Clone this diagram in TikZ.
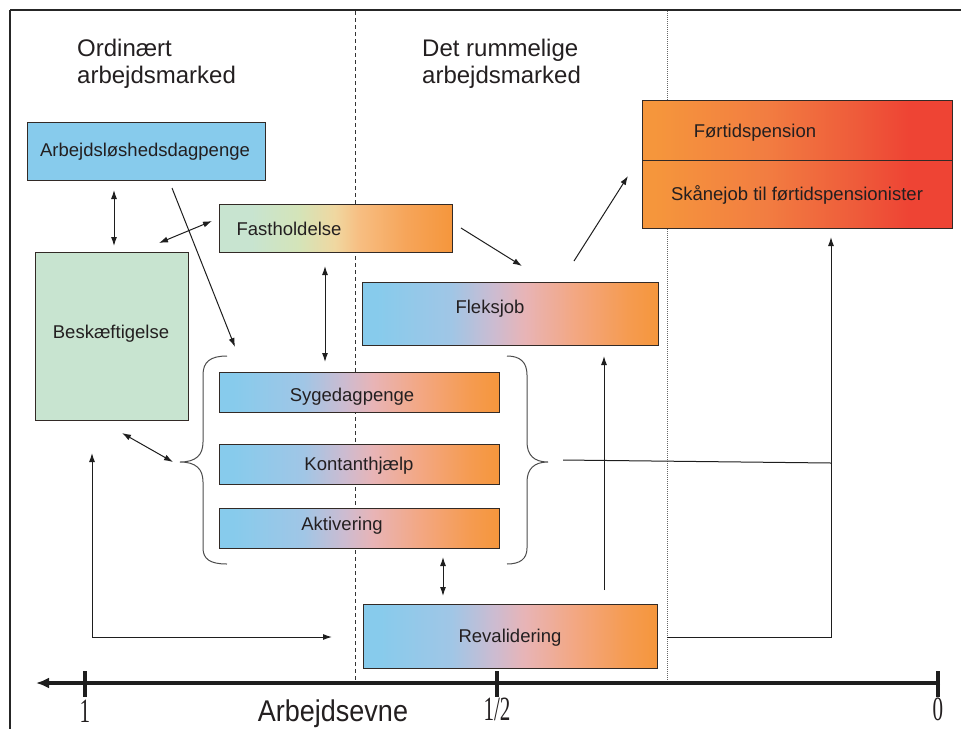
\documentclass[tikz,border=0pt]{standalone}
\usepackage{fontspec}
\setmainfont{Liberation Sans}
\newfontfamily\talfont{Liberation Serif}
\usetikzlibrary{arrows.meta}

\definecolor{lyseblaa}{RGB}{135,203,236}
\definecolor{blaa2}{RGB}{160,198,230}
\definecolor{lilla}{RGB}{205,187,208}
\definecolor{rosa}{RGB}{232,180,182}
\definecolor{laks}{RGB}{243,167,130}
\definecolor{orange2}{RGB}{245,155,80}
\definecolor{orange1}{RGB}{245,150,60}
\definecolor{lysegroen}{RGB}{200,228,208}
\definecolor{gulgroen}{RGB}{212,228,185}
\definecolor{beige}{RGB}{240,215,160}
\definecolor{lyseorange}{RGB}{247,190,130}
\definecolor{orange3}{RGB}{246,165,90}
\definecolor{rodorange}{RGB}{242,125,65}
\definecolor{rod2}{RGB}{238,90,58}
\definecolor{rod1}{RGB}{238,68,52}
\definecolor{kant}{RGB}{50,42,38}
\definecolor{tekstfarve}{RGB}{35,31,32}
\definecolor{linje}{RGB}{30,30,30}

\pgfdeclarehorizontalshading{blaaorange}{100bp}{color(0bp)=(lyseblaa); color(27.5bp)=(lyseblaa); color(40bp)=(blaa2); color(47.5bp)=(lilla); color(52.5bp)=(rosa); color(61bp)=(laks); color(70bp)=(orange2); color(75bp)=(orange1); color(100bp)=(orange1)}
\pgfdeclarehorizontalshading{groenorange}{100bp}{color(0bp)=(lysegroen); color(32bp)=(lysegroen); color(42bp)=(gulgroen); color(50bp)=(beige); color(55bp)=(lyseorange); color(65bp)=(orange3); color(75bp)=(orange1); color(100bp)=(orange1)}
\pgfdeclarehorizontalshading{orangerod}{100bp}{color(0bp)=(orange1); color(27bp)=(orange1); color(45bp)=(rodorange); color(60bp)=(rod2); color(68bp)=(rod1); color(100bp)=(rod1)}

\tikzset{
  boks/.style={draw=kant, line width=0.9pt, inner sep=0pt},
  toning/.style={shade, shading=#1},
  tekst/.style={font=\fontsize{18.5}{21}\selectfont, text=tekstfarve, inner sep=0pt},
  overskrift/.style={font=\fontsize{24}{27}\selectfont, align=left, text=tekstfarve, inner sep=0pt, anchor=north west},
  pil/.style={draw=linje, line width=1pt, -{Latex[length=9pt,width=6pt]}},
  dobbeltpil/.style={draw=linje, line width=1pt, {Latex[length=9pt,width=6pt]}-{Latex[length=9pt,width=6pt]}},
  klamme/.style={draw=black!70, line width=1pt},
  talstil/.style={font=\talfont\fontsize{34}{34}\selectfont, text=tekstfarve, inner sep=0pt, xscale=0.62},
}

\begin{document}
\begin{tikzpicture}[x=1pt,y=-1pt]
  \useasboundingbox (0,0) rectangle (961,729);
  %% ramme og skillelinjer
  \draw[line width=2.5pt, draw=black!85] (10,10) -- (961,10);
  \draw[line width=1.5pt, draw=black!85] (10,10) -- (10,729);
  \draw[line width=0.7pt, draw=black!80, dash pattern=on 4pt off 3pt] (355,11) -- (355,680);
  \draw[line width=0.7pt, draw=black!60, dash pattern=on 1pt off 1pt] (667,11) -- (667,680);

  \node[overskrift] (ordinaert) at (77,39) {Ordinært\\arbejdsmarked};
  \node[overskrift] (rummelig) at (422,39) {Det rummelige\\arbejdsmarked};

  %% kasser
  \node[boks, fill=lyseblaa, minimum width=238pt, minimum height=58pt] (dagpenge) at (146,151) {};
  \node[boks, fill=lysegroen, minimum width=153pt, minimum height=168pt] (beskaef) at (111.5,336) {};
  \node[boks, toning=groenorange, minimum width=233pt, minimum height=48pt] (fasthold) at (335.5,228) {};
  \node[boks, toning=blaaorange, minimum width=296pt, minimum height=63pt] (fleksjob) at (510,313.5) {};
  \node[boks, toning=orangerod, minimum width=310pt, minimum height=60pt] (pension) at (797,130) {};
  \node[boks, toning=orangerod, minimum width=310pt, minimum height=68pt] (skaane) at (797,194) {};
  \node[boks, toning=blaaorange, minimum width=280pt, minimum height=40pt] (syge) at (359,392) {};
  \node[boks, toning=blaaorange, minimum width=280pt, minimum height=40pt] (kontant) at (359,464) {};
  \node[boks, toning=blaaorange, minimum width=280pt, minimum height=40pt] (aktiv) at (359,528) {};
  \node[boks, toning=blaaorange, minimum width=294pt, minimum height=64pt] (reval) at (510,636) {};

  \node[tekst] (dagpengetxt) at (145,152) {Arbejdsløshedsdagpenge};
  \node[tekst] (beskaeftxt) at (111,334) {Beskæftigelse};
  \node[tekst] (fastholdtxt) at (289,229) {Fastholdelse};
  \node[tekst] (fleksjobtxt) at (490,309) {Fleksjob};
  \node[tekst] (pensiontxt) at (755,133) {Førtidspension};
  \node[tekst] (skaanetxt) at (797,195) {Skånejob til førtidspensionister};
  \node[tekst] (sygetxt) at (352,397) {Sygedagpenge};
  \node[tekst] (kontanttxt) at (359,466) {Kontanthjælp};
  \node[tekst] (aktivtxt) at (342,526) {Aktivering};
  \node[tekst] (revaltxt) at (510,638) {Revalidering};

  %% klammer
  \draw[klamme] (227,356) .. controls (210,356) and (203,362) .. (203,375) -- (203,442)
    .. controls (203,455) and (196,462) .. (180,462) .. controls (196,462) and (203,469) .. (203,482)
    -- (203,548) .. controls (203,559) and (210,564) .. (227,564);
  \draw[klamme] (507,356) .. controls (520,356) and (527,362) .. (527,375) -- (527,442)
    .. controls (527,455) and (534,462) .. (548,462) .. controls (534,462) and (527,469) .. (527,482)
    -- (527,548) .. controls (527,559) and (520,564) .. (507,564);

  %% pile
  \coordinate (p1) at (114,190); \coordinate (p2) at (114,246);
  \coordinate (p3) at (159,243); \coordinate (p4) at (212,221);
  \coordinate (p5) at (172,188); \coordinate (p6) at (235,347);
  \coordinate (p7) at (325,266); \coordinate (p8) at (325,362);
  \coordinate (p9) at (461,228); \coordinate (p10) at (522,266);
  \coordinate (p11) at (574,261); \coordinate (p12) at (628,176);
  \coordinate (p13) at (122,433); \coordinate (p14) at (173,462);
  \coordinate (p15) at (92,453); \coordinate (hjoerne) at (92,637); \coordinate (p16) at (332,637);
  \coordinate (p17) at (443,557); \coordinate (p18) at (443,596);
  \coordinate (p19) at (604,590); \coordinate (p20) at (604,356);
  \coordinate (p21) at (563,460); \coordinate (p22) at (831,463);
  \coordinate (p23) at (667,637); \coordinate (p24) at (831,637); \coordinate (p25) at (831,237);

  \draw[dobbeltpil] (p1) -- (p2);
  \draw[dobbeltpil] (p3) -- (p4);
  \draw[pil] (p5) -- (p6);
  \draw[dobbeltpil] (p7) -- (p8);
  \draw[pil] (p9) -- (p10);
  \draw[pil] (p11) -- (p12);
  \draw[dobbeltpil] (p13) -- (p14);
  \draw[dobbeltpil] (p15) -- (hjoerne) -- (p16);
  \draw[dobbeltpil] (p17) -- (p18);
  \draw[pil] (p19) -- (p20);
  \draw[draw=linje, line width=1pt] (p21) -- (p22);
  \draw[pil] (p23) -- (p24) -- (p25);

  %% akse
  \coordinate (aksehoejre) at (940,683); \coordinate (akseventre) at (36,683);
  \draw[line width=3.5pt, draw=linje, -{Latex[length=13pt,width=11pt]}] (aksehoejre) -- (akseventre);
  \foreach \x in {85,497,938}
    \draw[line width=3.5pt, draw=linje] (\x,671) -- (\x,697);
  \node[talstil] (en) at (85,711) {1};
  \node[talstil] (halv) at (497,709) {1/2};
  \node[talstil] (nul) at (938,709) {0};
  \node[tekst, font=\fontsize{30}{30}\selectfont, xscale=0.9] (evne) at (333,714) {Arbejdsevne};
\end{tikzpicture}
\end{document}
